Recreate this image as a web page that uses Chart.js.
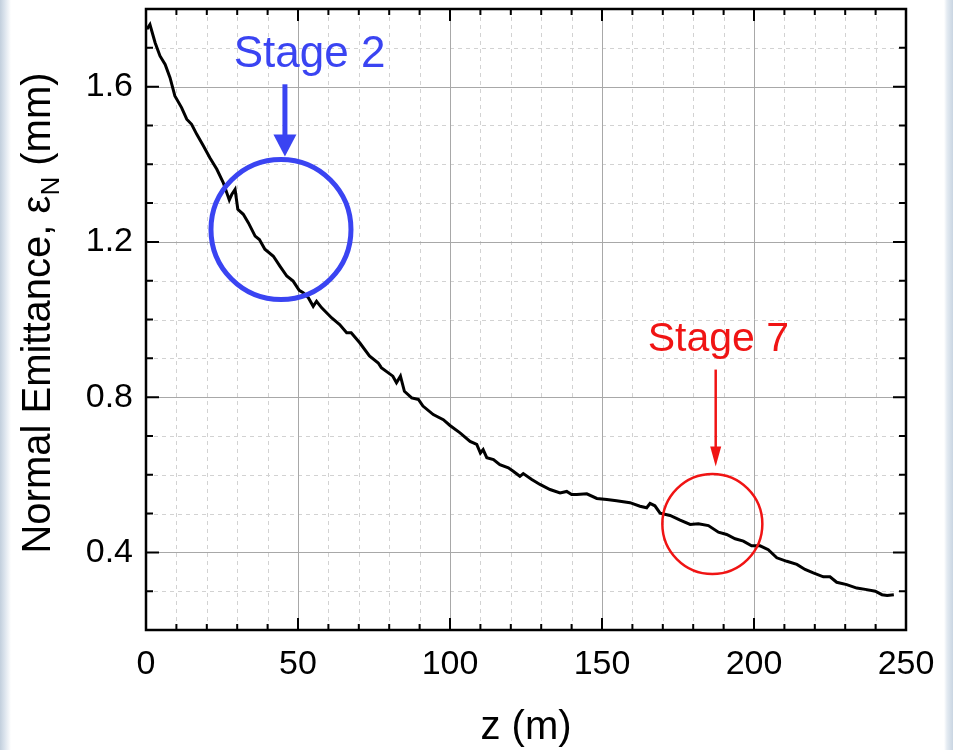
<!DOCTYPE html>
<html>
<head>
<meta charset="utf-8">
<script src="https://cdn.jsdelivr.net/npm/chart.js@4.4.1/dist/chart.umd.min.js"></script>
<style>
    html, body { margin: 0; padding: 0; }
    body {
        width: 953px; height: 750px; overflow: hidden;
        background: linear-gradient(to right, #c2cfdd 0px, #dde5ee 5px, #ffffff 11px, #ffffff 944px, #e4ebf2 947px, #c9d5e2 953px);
    }
    canvas { display: block; }
</style>
</head>
<body>
<canvas id="emitChart" width="953" height="750"></canvas>
<script>
// z position along the line (m)
const zPos = [0.3, 1.3, 3.0, 4.6, 6.3, 7.9, 9.5, 11.7, 13.4, 15.0, 16.7, 18.9, 21.0, 23.3, 25.4,
    27.4, 28.2, 29.3, 30.2, 32.0, 33.7, 35.9, 37.3, 39.1, 41.9, 44.1, 46.3, 48.4, 50.4, 51.7,
    53.4, 55.0, 56.1, 57.8, 61.1, 63.7, 66.0, 67.5, 70.3, 73.5, 76.4, 77.4, 81.2, 82.4, 83.7,
    85.0, 87.4, 89.6, 91.1, 94.5, 97.8, 100.0, 103.3, 106.6, 108.8, 110.0, 110.9, 112.1, 114.3,
    116.4, 119.2, 120.8, 123.0, 124.1, 126.9, 129.6, 132.9, 136.2, 138.4, 140.0, 141.7, 145.0,
    148.3, 151.6, 154.8, 159.2, 162.5, 164.7, 165.8, 167.4, 169.1, 172.4, 175.7, 179.0, 181.7,
    185.0, 188.3, 191.0, 193.8, 196.5, 199.2, 202.0, 204.7, 207.5, 210.8, 214.1, 216.8, 219.5,
    222.8, 225.0, 227.2, 230.5, 233.8, 237.1, 239.9, 242.1, 243.8, 246.0];

// normalized emittance (mm)
const emittance = [1.748, 1.760, 1.713, 1.679, 1.657, 1.623, 1.576, 1.546, 1.516, 1.503, 1.477, 1.447, 1.417, 1.387, 1.353,
    1.308, 1.322, 1.335, 1.284, 1.271, 1.249, 1.215, 1.206, 1.181, 1.163, 1.137, 1.112, 1.099, 1.075, 1.069,
    1.056, 1.034, 1.047, 1.030, 1.004, 0.987, 0.966, 0.966, 0.940, 0.906, 0.888, 0.876, 0.854, 0.837, 0.854,
    0.815, 0.798, 0.794, 0.777, 0.755, 0.742, 0.727, 0.708, 0.686, 0.678, 0.656, 0.665, 0.644, 0.639,
    0.626, 0.618, 0.609, 0.596, 0.603, 0.588, 0.575, 0.562, 0.553, 0.557, 0.549, 0.549, 0.551,
    0.539, 0.536, 0.533, 0.528, 0.519, 0.515, 0.526, 0.520, 0.501, 0.495, 0.483, 0.472, 0.474,
    0.469, 0.452, 0.446, 0.435, 0.429, 0.417, 0.417, 0.407, 0.386, 0.377, 0.369, 0.356, 0.347,
    0.337, 0.337, 0.323, 0.317, 0.308, 0.304, 0.300, 0.291, 0.289, 0.291];

const xTickValues = [0, 50, 100, 150, 200, 250];
const yTickValues = [0.4, 0.8, 1.2, 1.6];

// markers for the two stages (data coordinates)
const stageMarks = [
    { label: "Stage 2", color: "#3a44f2", textZ: 53.8, textE: 1.650, fontSize: 44,
      arrowZ: 45.7, arrowFrom: 1.606, arrowTo: 1.420, arrowWidth: 5, headW: 23, headL: 22,
      circleZ: 44.4, circleE: 1.232, radius: 70, circleWidth: 5 },
    { label: "Stage 7", color: "#f01414", textZ: 188.3, textE: 0.918, fontSize: 41,
      arrowZ: 187.4, arrowFrom: 0.871, arrowTo: 0.621, arrowWidth: 2.5, headW: 11, headL: 20,
      circleZ: 186.3, circleE: 0.473, radius: 50, circleWidth: 2.5 }
];

const FONT = "'Liberation Sans', Arial, sans-serif";

const frameAndExtras = {
    id: "frameAndExtras",
    beforeDatasetsDraw(chart) {
        const { ctx, chartArea: a, scales: { x, y } } = chart;
        ctx.save();
        ctx.lineWidth = 1;
        // minor dashed grid
        ctx.strokeStyle = "#d2d2d2";
        ctx.setLineDash([4, 4]);
        ctx.beginPath();
        for (let z = 10; z < 250; z += 10) {
            if (z % 50 === 0) continue;
            const px = Math.round(x.getPixelForValue(z)) + 0.5;
            ctx.moveTo(px, a.top); ctx.lineTo(px, a.bottom);
        }
        for (let i = 3; i <= 17; i++) {
            if (i % 4 === 0) continue;
            const py = Math.round(y.getPixelForValue(i / 10)) + 0.5;
            ctx.moveTo(a.left, py); ctx.lineTo(a.right, py);
        }
        ctx.stroke();
        // major solid grid
        ctx.setLineDash([]);
        ctx.strokeStyle = "#a8a8a8";
        ctx.beginPath();
        xTickValues.slice(1, -1).forEach(z => {
            const px = Math.round(x.getPixelForValue(z)) + 0.5;
            ctx.moveTo(px, a.top); ctx.lineTo(px, a.bottom);
        });
        yTickValues.forEach(v => {
            const py = Math.round(y.getPixelForValue(v)) + 0.5;
            ctx.moveTo(a.left, py); ctx.lineTo(a.right, py);
        });
        ctx.stroke();
        ctx.restore();
    },
    afterDatasetsDraw(chart) {
        const { ctx, chartArea: a, scales: { x, y } } = chart;
        ctx.save();
        // frame
        ctx.strokeStyle = "#000";
        ctx.lineWidth = 2.5;
        ctx.strokeRect(a.left, a.top, a.right - a.left, a.bottom - a.top);
        // inward ticks
        ctx.lineWidth = 2;
        ctx.beginPath();
        for (let z = 10; z < 250; z += 10) {
            const px = x.getPixelForValue(z);
            const len = z % 50 === 0 ? 12 : 6;
            ctx.moveTo(px, a.bottom); ctx.lineTo(px, a.bottom - len);
            ctx.moveTo(px, a.top); ctx.lineTo(px, a.top + len);
        }
        for (let i = 3; i <= 17; i++) {
            const py = y.getPixelForValue(i / 10);
            const len = i % 4 === 0 ? 13 : 7;
            ctx.moveTo(a.left, py); ctx.lineTo(a.left + len, py);
            ctx.moveTo(a.right, py); ctx.lineTo(a.right - len, py);
        }
        ctx.stroke();

        // stage markers
        stageMarks.forEach(m => {
            ctx.strokeStyle = m.color;
            ctx.fillStyle = m.color;
            ctx.lineWidth = m.circleWidth;
            ctx.beginPath();
            ctx.arc(x.getPixelForValue(m.circleZ), y.getPixelForValue(m.circleE), m.radius, 0, Math.PI * 2);
            ctx.stroke();

            const ax = x.getPixelForValue(m.arrowZ);
            const y0 = y.getPixelForValue(m.arrowFrom);
            const y1 = y.getPixelForValue(m.arrowTo);
            ctx.lineWidth = m.arrowWidth;
            ctx.beginPath();
            ctx.moveTo(ax, y0); ctx.lineTo(ax, y1 - m.headL + 2);
            ctx.stroke();
            ctx.beginPath();
            ctx.moveTo(ax - m.headW / 2, y1 - m.headL);
            ctx.lineTo(ax + m.headW / 2, y1 - m.headL);
            ctx.lineTo(ax, y1);
            ctx.closePath();
            ctx.fill();

            ctx.font = m.fontSize + "px " + FONT;
            ctx.textAlign = "center";
            ctx.textBaseline = "alphabetic";
            ctx.fillText(m.label, x.getPixelForValue(m.textZ), y.getPixelForValue(m.textE));
        });

        // axis titles
        ctx.fillStyle = "#000";
        ctx.font = "40px " + FONT;
        ctx.textAlign = "center";
        ctx.textBaseline = "alphabetic";
        ctx.fillText("z (m)", (a.left + a.right) / 2, 739);

        ctx.translate(50, 313);
        ctx.rotate(-Math.PI / 2);
        ctx.textAlign = "left";
        const big = "40px " + FONT, small = "26px " + FONT;
        const parts = [["Normal Emittance, \u03b5", big, 0], ["N", small, 9], [" (mm)", big, 0]];
        let total = 0;
        parts.forEach(p => { ctx.font = p[1]; total += ctx.measureText(p[0]).width; });
        let cx = -total / 2;
        parts.forEach(p => {
            ctx.font = p[1];
            ctx.fillText(p[0], cx, p[2]);
            cx += ctx.measureText(p[0]).width;
        });
        ctx.restore();
    }
};

const ctx = document.getElementById("emitChart").getContext("2d");
new Chart(ctx, {
    type: "scatter",
    data: {
        datasets: [{
            data: zPos.map((z, i) => ({ x: z, y: emittance[i] })),
            showLine: true,
            borderColor: "#000",
            borderWidth: 3,
            pointRadius: 0,
            tension: 0
        }]
    },
    options: {
        responsive: false,
        animation: false,
        layout: { padding: { top: 9, right: 47, left: 0, bottom: 0 } },
        plugins: { legend: { display: false }, tooltip: { enabled: false } },
        scales: {
            x: {
                type: "linear", min: 0, max: 250,
                afterBuildTicks: s => { s.ticks = xTickValues.map(v => ({ value: v })); },
                afterFit: s => { s.height = 120; s.paddingLeft = 0; s.paddingRight = 0; },
                grid: { display: false, drawTicks: false },
                border: { display: false },
                ticks: { color: "#000", font: { family: FONT, size: 34 }, padding: 14, maxRotation: 0 }
            },
            y: {
                type: "linear", min: 0.2, max: 1.8,
                afterBuildTicks: s => { s.ticks = yTickValues.map(v => ({ value: v })); },
                afterFit: s => { s.width = 146; s.paddingTop = 0; s.paddingBottom = 0; },
                grid: { display: false, drawTicks: false },
                border: { display: false },
                ticks: { color: "#000", font: { family: FONT, size: 34 }, padding: 13,
                    callback: v => v.toFixed(1) }
            }
        }
    },
    plugins: [frameAndExtras]
});
</script>
</body>
</html>
